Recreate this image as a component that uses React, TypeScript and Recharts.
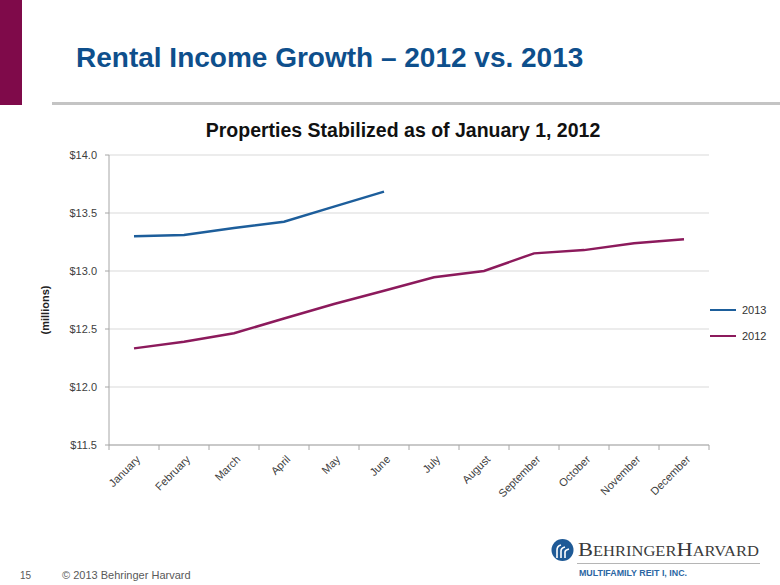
import React from 'react';
import { LineChart, Line, XAxis, YAxis, CartesianGrid, Legend } from 'recharts';

const months = [
  'January', 'February', 'March', 'April', 'May', 'June',
  'July', 'August', 'September', 'October', 'November', 'December',
];
const values2013 = [13.3, 13.31, 13.37, 13.425, 13.555, 13.684];
const values2012 = [12.333, 12.39, 12.463, 12.59, 12.716, 12.83, 12.946, 13.0, 13.152, 13.18, 13.24, 13.273];
const yTicks = [11.5, 12.0, 12.5, 13.0, 13.5, 14.0];
const seriesNames = ['2013', '2012'];
const seriesColors = ['#1D5E9B', '#8C1A5C'];

const xTicks: number[] = [];
for (let i = 0; i <= months.length; i++) {
  xTicks.push(i);
  if (i < months.length) xTicks.push(i + 0.5);
}

const data = months.map((m, i) => ({
  x: i + 0.5,
  month: m,
  y2013: i < values2013.length ? values2013[i] : null,
  y2012: values2012[i],
}));

const FONT = '"Liberation Sans", Arial, Helvetica, sans-serif';

const XTick = (props: any) => {
  const { x, y, payload } = props;
  const v = payload.value as number;
  if (Number.isInteger(v)) {
    return <line x1={x} x2={x} y1={y} y2={y + 5} stroke="#a6a6a6" strokeWidth={1} />;
  }
  const label = months[Math.floor(v)];
  const ax = x + 7;
  const ay = y + 15;
  return (
    <text
      x={ax}
      y={ay}
      textAnchor="end"
      transform={`rotate(-45 ${ax} ${ay})`}
      fontSize={11}
      fill="#404040"
      fontFamily={FONT}
    >
      {label}
    </text>
  );
};

const LegendContent = (props: any) => {
  const payload = [...(props.payload || [])].sort(
    (a: any, b: any) => seriesNames.indexOf(String(a.value)) - seriesNames.indexOf(String(b.value))
  );
  return (
    <div style={{ fontFamily: FONT, fontSize: 11, color: '#333' }}>
      {payload.map((p: any, i: number) => (
        <div key={i} style={{ display: 'flex', alignItems: 'center', height: 26 }}>
          <div style={{ width: 26, height: 2.5, background: p.color, marginRight: 6 }} />
          <span>{p.value}</span>
        </div>
      ))}
    </div>
  );
};

export default function App() {
  return (
    <div style={{ position: 'absolute', left: 0, top: 0, width: 780, height: 585, background: '#fff', overflow: 'hidden' }}>
      <div style={{ position: 'absolute', left: 0, top: 0 }}>
        <LineChart width={780} height={585} data={data} margin={{ top: 155, right: 71, bottom: 100, left: 49 }}>
          <CartesianGrid vertical={false} stroke="#d9d9d9" strokeWidth={1} />
          <XAxis
            type="number"
            dataKey="x"
            domain={[0, 12]}
            ticks={xTicks}
            interval={0}
            height={40}
            tickSize={0}
            tickMargin={0}
            tickLine={false}
            axisLine={{ stroke: '#a6a6a6' }}
            tick={<XTick />}
            allowDataOverflow
          />
          <YAxis
            type="number"
            domain={[11.5, 14]}
            ticks={yTicks}
            interval={0}
            width={60}
            tickSize={4}
            tickMargin={8}
            axisLine={{ stroke: '#a6a6a6' }}
            tickLine={{ stroke: '#a6a6a6' }}
            tick={{ fontSize: 11, fill: '#404040', fontFamily: FONT }}
            tickFormatter={(v: number) => `$${v.toFixed(1)}`}
          />
          <Legend
            layout="vertical"
            align="center"
            verticalAlign="middle"
            content={<LegendContent />}
            wrapperStyle={{ position: 'absolute', left: 710, top: 297, width: 70 }}
          />
          <Line
            type="linear"
            dataKey="y2013"
            name={seriesNames[0]}
            stroke={seriesColors[0]}
            strokeWidth={2.5}
            dot={false}
            activeDot={false}
            isAnimationActive={false}
          />
          <Line
            type="linear"
            dataKey="y2012"
            name={seriesNames[1]}
            stroke={seriesColors[1]}
            strokeWidth={2.5}
            dot={false}
            activeDot={false}
            isAnimationActive={false}
          />
        </LineChart>
      </div>
      <svg width={780} height={585} style={{ position: 'absolute', left: 0, top: 0, pointerEvents: 'none' }}>
        <rect x={0} y={0} width={22} height={105} fill="#7F0A4A" />
        <rect x={52} y={102} width={728} height={3} fill="#c4c4c4" />
        <text x={76} y={67} fontSize={28} fontWeight="bold" fill="#0E4F8C" fontFamily={FONT}>
          Rental Income Growth – 2012 vs. 2013
        </text>
        <text x={403} y={137} fontSize={19.5} fontWeight="bold" fill="#111" textAnchor="middle" fontFamily={FONT}>
          Properties Stabilized as of January 1, 2012
        </text>
        <text
          x={49}
          y={310}
          fontSize={11}
          fontWeight="bold"
          fill="#222"
          textAnchor="middle"
          fontFamily={FONT}
          transform="rotate(-90 49 310)"
        >
          (millions)
        </text>
        <text x={20} y={579} fontSize={10} fill="#595959" fontFamily={FONT}>15</text>
        <text x={62} y={579} fontSize={11} fill="#595959" fontFamily={FONT}>© 2013 Behringer Harvard</text>
        <circle cx={562.5} cy={550} r={11} fill="#1F5A96" />
        <path d="M557 558 V550 Q557 546 561 545" stroke="#fff" strokeWidth={1.6} fill="none" />
        <path d="M561 558 V551 Q561 548 565 547" stroke="#fff" strokeWidth={1.6} fill="none" />
        <path d="M565 558 V552 Q565 550 569 549" stroke="#fff" strokeWidth={1.6} fill="none" />
        <text x={578} y={556} fill="#3a3a3a" fontFamily='"Liberation Serif", "DejaVu Serif", serif' textLength={181} lengthAdjust="spacingAndGlyphs">
          <tspan fontSize={19}>B</tspan>
          <tspan fontSize={14}>EHRINGER</tspan>
          <tspan fontSize={19}>H</tspan>
          <tspan fontSize={14}>ARVARD</tspan>
        </text>
        <line x1={577} x2={760} y1={563.5} y2={563.5} stroke="#b5b5b5" strokeWidth={1} />
        <text x={579} y={576} fontSize={8.5} fontWeight="bold" fill="#2B66A3" fontFamily={FONT} textLength={108} lengthAdjust="spacingAndGlyphs">
          MULTIFAMILY REIT I, INC.
        </text>
      </svg>
    </div>
  );
}
